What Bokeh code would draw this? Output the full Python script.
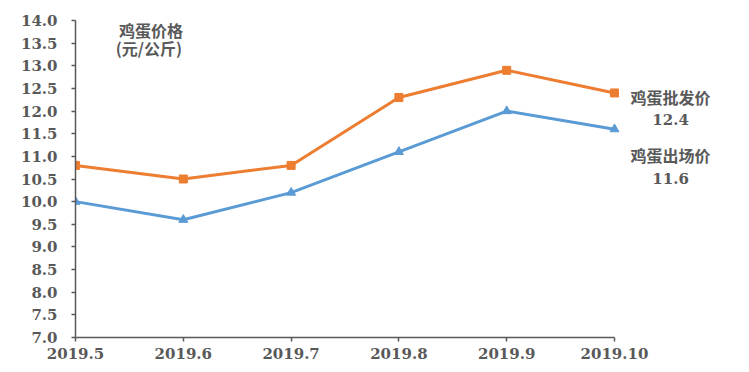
from bokeh.plotting import figure
from bokeh.models import Label, FixedTicker, Range1d
from bokeh.embed import file_html
from bokeh.resources import INLINE

months = ["2019.5", "2019.6", "2019.7", "2019.8", "2019.9", "2019.10"]
wholesale = [10.8, 10.5, 10.8, 12.3, 12.9, 12.4]
farmgate = [10.0, 9.6, 10.2, 11.1, 12.0, 11.6]
y_ticks = [7.0, 7.5, 8.0, 8.5, 9.0, 9.5, 10.0, 10.5, 11.0, 11.5, 12.0, 12.5, 13.0, 13.5, 14.0]

xs = list(range(len(months)))
GRAY = "#595959"
NUMFONT = "DejaVu Serif"
CJK = "Noto Sans CJK SC"

PX_PER_X = 107.8
FRAME_W = 665

p = figure(width=741, height=364, output_backend="svg", toolbar_location=None,
           x_range=Range1d(0, FRAME_W / PX_PER_X), y_range=Range1d(7.0, 14.0),
           frame_width=FRAME_W, frame_height=317,
           min_border_left=75, min_border_right=1, min_border_top=20, min_border_bottom=27)
p.outline_line_color = None
p.xgrid.visible = False
p.ygrid.visible = False

p.xaxis.ticker = FixedTicker(ticks=xs)
p.xaxis.bounds = (xs[0], xs[-1])
p.xaxis.major_label_overrides = {i: m for i, m in zip(xs, months)}
p.yaxis.ticker = FixedTicker(ticks=y_ticks)
p.yaxis.major_label_overrides = {t: f"{t:.1f}" for t in y_ticks}
for ax in (p.xaxis, p.yaxis):
    ax.axis_line_color = GRAY
    ax.axis_line_width = 1.5
    ax.major_tick_line_color = GRAY
    ax.major_tick_line_width = 1.5
    ax.major_tick_in = 0
    ax.major_tick_out = 4
    ax.minor_tick_line_color = None
    ax.major_label_text_font = NUMFONT
    ax.major_label_text_font_style = "bold"
    ax.major_label_text_font_size = "15px"
    ax.major_label_text_color = GRAY
p.yaxis.major_label_standoff = 14
p.xaxis.major_label_standoff = 6

ORANGE = "#ED7D31"
BLUE = "#5B9BD5"
p.line(xs, wholesale, line_color=ORANGE, line_width=3)
p.scatter(xs, wholesale, marker="square", size=8, fill_color=ORANGE, line_color=ORANGE)
p.line(xs, farmgate, line_color=BLUE, line_width=3)
p.scatter(xs, farmgate, marker="triangle", size=9, fill_color=BLUE, line_color=BLUE)

def lab(x, y, t, font=CJK, size="16px"):
    p.add_layout(Label(x=x, y=y, text=t, text_align="center", text_baseline="middle",
                       text_font=font, text_font_style="bold", text_font_size=size,
                       text_color=GRAY))

lab(0.70, 13.78, "鸡蛋价格")
lab(0.68, 13.40, "(元/公斤)")
lab(5.52, 12.32, "鸡蛋批发价")
lab(5.52, 11.81, f"{wholesale[-1]:.1f}", NUMFONT, "15px")
lab(5.52, 11.02, "鸡蛋出场价")
lab(5.52, 10.51, f"{farmgate[-1]:.1f}", NUMFONT, "15px")

open("out.html", "w").write(file_html(p, INLINE))
